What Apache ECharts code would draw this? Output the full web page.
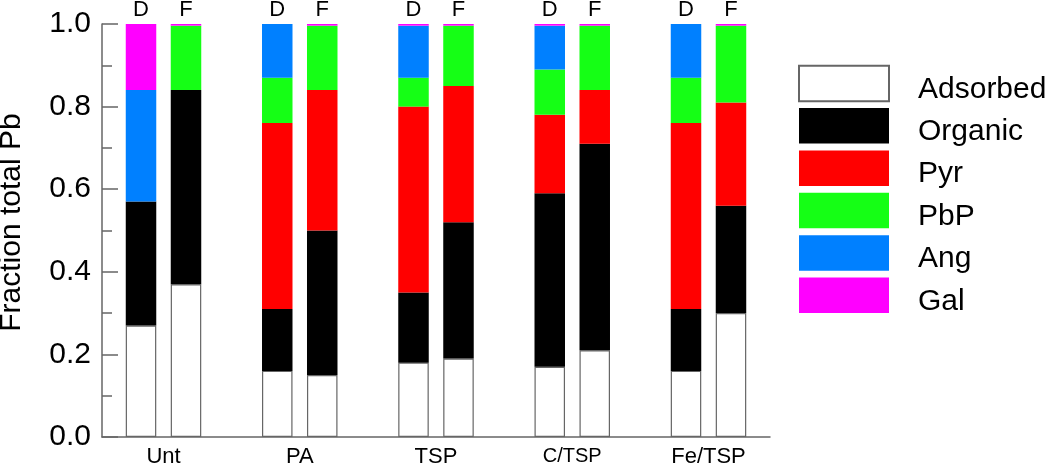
<!DOCTYPE html>
<html>
<head>
<meta charset="utf-8">
<script src="https://cdn.jsdelivr.net/npm/echarts@6/dist/echarts.min.js"></script>
<style>
  html, body { margin: 0; padding: 0; background: #fff; }
  #chart { width: 1050px; height: 465px; }
</style>
</head>
<body>
<div id="chart"></div>
<script>
// treatments along the x axis, each has a D and an F bar
const groups = ['Unt', 'PA', 'TSP', 'C/TSP', 'Fe/TSP'];
const pairLabels = ['D', 'F'];
const yTicks = [0, 0.2, 0.4, 0.6, 0.8, 1.0];

// fractions, bottom to top
const adsorbedD = [0.27, 0.16, 0.18, 0.17, 0.16];
const adsorbedF = [0.37, 0.15, 0.19, 0.21, 0.30];
const organicD = [0.30, 0.15, 0.17, 0.42, 0.15];
const organicF = [0.47, 0.35, 0.33, 0.50, 0.26];
const pyrD = [0, 0.45, 0.45, 0.19, 0.45];
const pyrF = [0, 0.34, 0.33, 0.13, 0.25];
const pbpD = [0, 0.11, 0.07, 0.11, 0.11];
const pbpF = [0.156, 0.156, 0.146, 0.156, 0.186];
const angD = [0.27, 0.13, 0.126, 0.106, 0.13];
const angF = [0, 0, 0, 0, 0];
const galD = [0.16, 0, 0.004, 0.004, 0];
const galF = [0.004, 0.004, 0.004, 0.004, 0.004];

const layers = [
  { name: 'Adsorbed', d: adsorbedD, f: adsorbedF, color: '#ffffff', border: '#666666' },
  { name: 'Organic', d: organicD, f: organicF, color: '#000000' },
  { name: 'Pyr', d: pyrD, f: pyrF, color: '#ff0000' },
  { name: 'PbP', d: pbpD, f: pbpF, color: '#15ff15' },
  { name: 'Ang', d: angD, f: angF, color: '#0080ff' },
  { name: 'Gal', d: galD, f: galF, color: '#ff00ff' }
];

const font = 'Liberation Sans, Arial, sans-serif';

const series = [];
layers.forEach((layer, li) => {
  [layer.d, layer.f].forEach((vals, k) => {
    const isTop = li === layers.length - 1;
    series.push({
      name: layer.name,
      type: 'bar',
      stack: pairLabels[k],
      barWidth: 30.5,
      barGap: '47.5%',
      // value first so it is the stacked dimension
      data: vals.map((v, i) => [v, i]),
      encode: { x: 1, y: 0 },
      itemStyle: {
        color: layer.color,
        borderColor: layer.border || layer.color,
        borderWidth: layer.border ? 1.2 : 0
      },
      label: {
        show: isTop,
        position: 'top',
        distance: 3,
        formatter: () => pairLabels[k],
        fontFamily: font,
        fontSize: 22,
        color: '#000'
      },
      emphasis: { disabled: true },
      animation: false
    });
  });
});

const chart = echarts.init(document.getElementById('chart'));
chart.setOption({
  backgroundColor: '#fff',
  animation: false,
  grid: { left: 102, right: 280, top: 24, bottom: 28, containLabel: false, outerBoundsMode: 'none' },
  legend: {
    orient: 'vertical',
    left: 798,
    top: 64.75,
    padding: 0,
    itemWidth: 90,
    itemHeight: 35.5,
    itemGap: 3.6,
    icon: 'rect',
    selectedMode: false,
    data: layers.map(l => l.name),
    formatter: name => '{t|' + name + '}',
    textStyle: {
      fontFamily: font,
      fontSize: 30,
      color: '#000',
      rich: {
        t: { fontFamily: font, fontSize: 30, color: '#000', padding: [12, 0, 0, 24] }
      }
    }
  },
  xAxis: {
    type: 'value',
    min: -0.4514,
    max: 4.4514,
    axisLine: { show: true, onZero: false, lineStyle: { color: '#666', width: 1.5 } },
    axisTick: { show: false },
    splitLine: { show: false },
    axisLabel: {
      customValues: groups.map((g, i) => i),
      formatter: v => {
        const name = groups[Math.round(v)];
        return name === 'C/TSP' ? '{s|' + name + '}' : name;
      },
      margin: 9,
      fontFamily: font,
      fontSize: 22,
      color: '#000',
      rich: { s: { fontFamily: font, fontSize: 20, color: '#000' } }
    }
  },
  yAxis: {
    type: 'value',
    min: yTicks[0],
    max: yTicks[yTicks.length - 1],
    interval: 0.2,
    name: 'Fraction total Pb',
    nameLocation: 'middle',
    nameRotate: 90,
    nameGap: 75,
    nameTextStyle: { fontFamily: font, fontSize: 30, color: '#000', padding: [0, 0, 0, 16] },
    axisLine: { show: true, onZero: false, lineStyle: { color: '#666', width: 1.5 } },
    axisTick: { show: true, inside: true, length: 16, lineStyle: { color: '#666', width: 1.5 } },
    minorTick: { show: true, splitNumber: 2, length: 10, lineStyle: { color: '#666', width: 1.5 } },
    splitLine: { show: false },
    axisLabel: {
      formatter: v => v.toFixed(1),
      margin: 11,
      fontFamily: font,
      fontSize: 30,
      color: '#000'
    }
  },
  series: series
});
</script>
</body>
</html>
